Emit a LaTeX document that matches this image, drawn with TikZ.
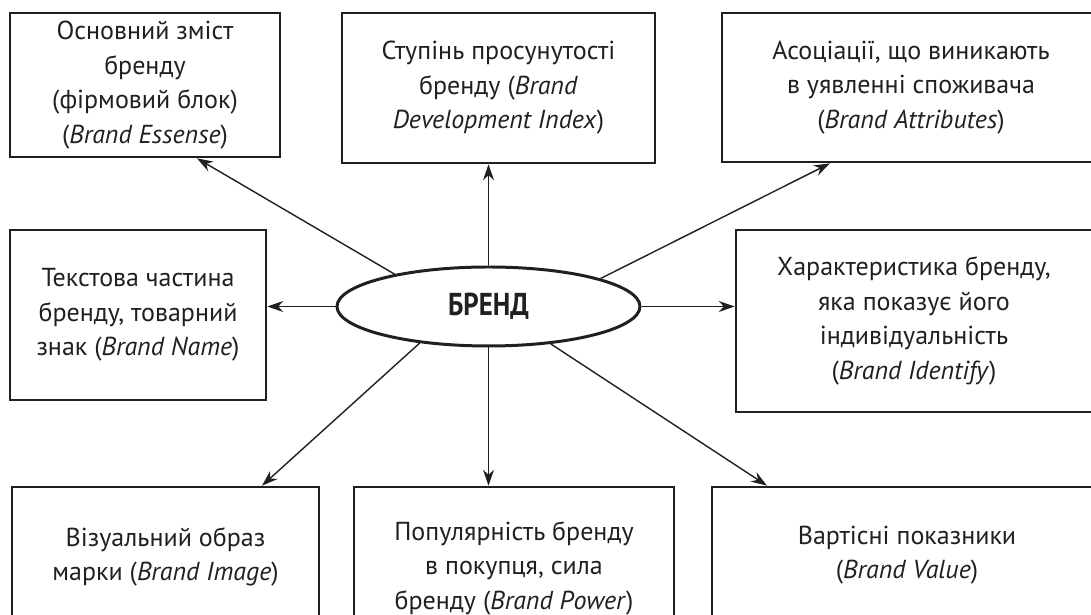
\documentclass[tikz,border=0pt]{standalone}
\usepackage{fontspec}
\setmainfont{PT Sans}
\newfontfamily\brandfont[FakeStretch=0.85]{PT Sans Bold}
\usepackage{tikz}
\usetikzlibrary{arrows.meta,shapes.geometric}
\definecolor{ink}{HTML}{231F20}

\begin{document}
\begin{tikzpicture}[
  font=\fontsize{7.4}{9.8}\selectfont,
  text=ink,
  box/.style={draw=ink,line width=0.75pt,align=center,inner sep=0pt},
  core/.style={ellipse,draw=ink,line width=0.85pt,minimum width=3.03cm,
               minimum height=0.79cm,inner sep=0pt,
               font=\fontsize{9}{11}\brandfont},
  arr/.style={-{Stealth[length=1.6mm,width=1.1mm]},draw=ink,line width=0.4pt}]

\useasboundingbox (0,0) rectangle (10.91,6.15);
\clip (0,0) rectangle (10.91,6.15);

% ---------------- centre ----------------
\node[core] (brand) at (4.885,3.085) {БРЕНД};

% ---------------- top row ----------------
\node[box,minimum width=2.70cm,minimum height=1.44cm] (essence) at (1.45,5.30)
  {Основний зміст\\бренду\\(фірмовий блок)\\(\textit{Brand Essense})};
\node[box,minimum width=3.13cm,minimum height=1.50cm] (index) at (4.985,5.27)
  {Ступінь просунутості\\бренду (\textit{Brand}\\\textit{Development Index})};
\node[box,minimum width=3.78cm,minimum height=1.49cm] (attrib) at (9.11,5.275)
  {Асоціації, що виникають\\в уявленні споживача\\(\textit{Brand Attributes})};

% ---------------- middle row ----------------
\node[box,minimum width=2.56cm,minimum height=1.70cm] (name) at (1.38,3.00)
  {Текстова частина\\бренду, товарний\\знак (\textit{Brand Name})};
\node[box,minimum width=3.56cm,minimum height=1.82cm] (ident) at (9.14,2.94)
  {Характеристика бренду,\\яка показує його\\індивідуальність\\(\textit{Brand Identify})};

% ---------------- bottom row ----------------
\node[box,minimum width=3.07cm,minimum height=1.40cm] (image) at (1.655,0.58)
  {Візуальний образ\\марки (\textit{Brand Image})};
\node[box,minimum width=3.20cm,minimum height=1.62cm] (power) at (5.14,0.47)
  {Популярність бренду\\в покупця, сила\\бренду (\textit{Brand Power})};
\node[box,minimum width=3.90cm,minimum height=1.36cm] (value) at (9.07,0.60)
  {Вартісні показники\\(\textit{Brand Value})};

% ---------------- arrows ----------------
\draw[arr] (brand.161) -- ([xshift=0.52cm]essence.south);
\draw[arr] (brand.north) -- (brand.north |- index.south);
\draw[arr] (brand.14) -- ([xshift=-0.81cm]attrib.south);
\draw[arr] (brand.west) -- (brand.west -| name.east);
\draw[arr] (brand.east) -- (brand.east -| ident.west);
\draw[arr] (brand.208) -- ([xshift=0.965cm]image.north);
\draw[arr] (brand.south) -- (brand.south |- power.north);
\draw[arr] (brand.329) -- ([xshift=-1.40cm]value.north);
\end{tikzpicture}
\end{document}
